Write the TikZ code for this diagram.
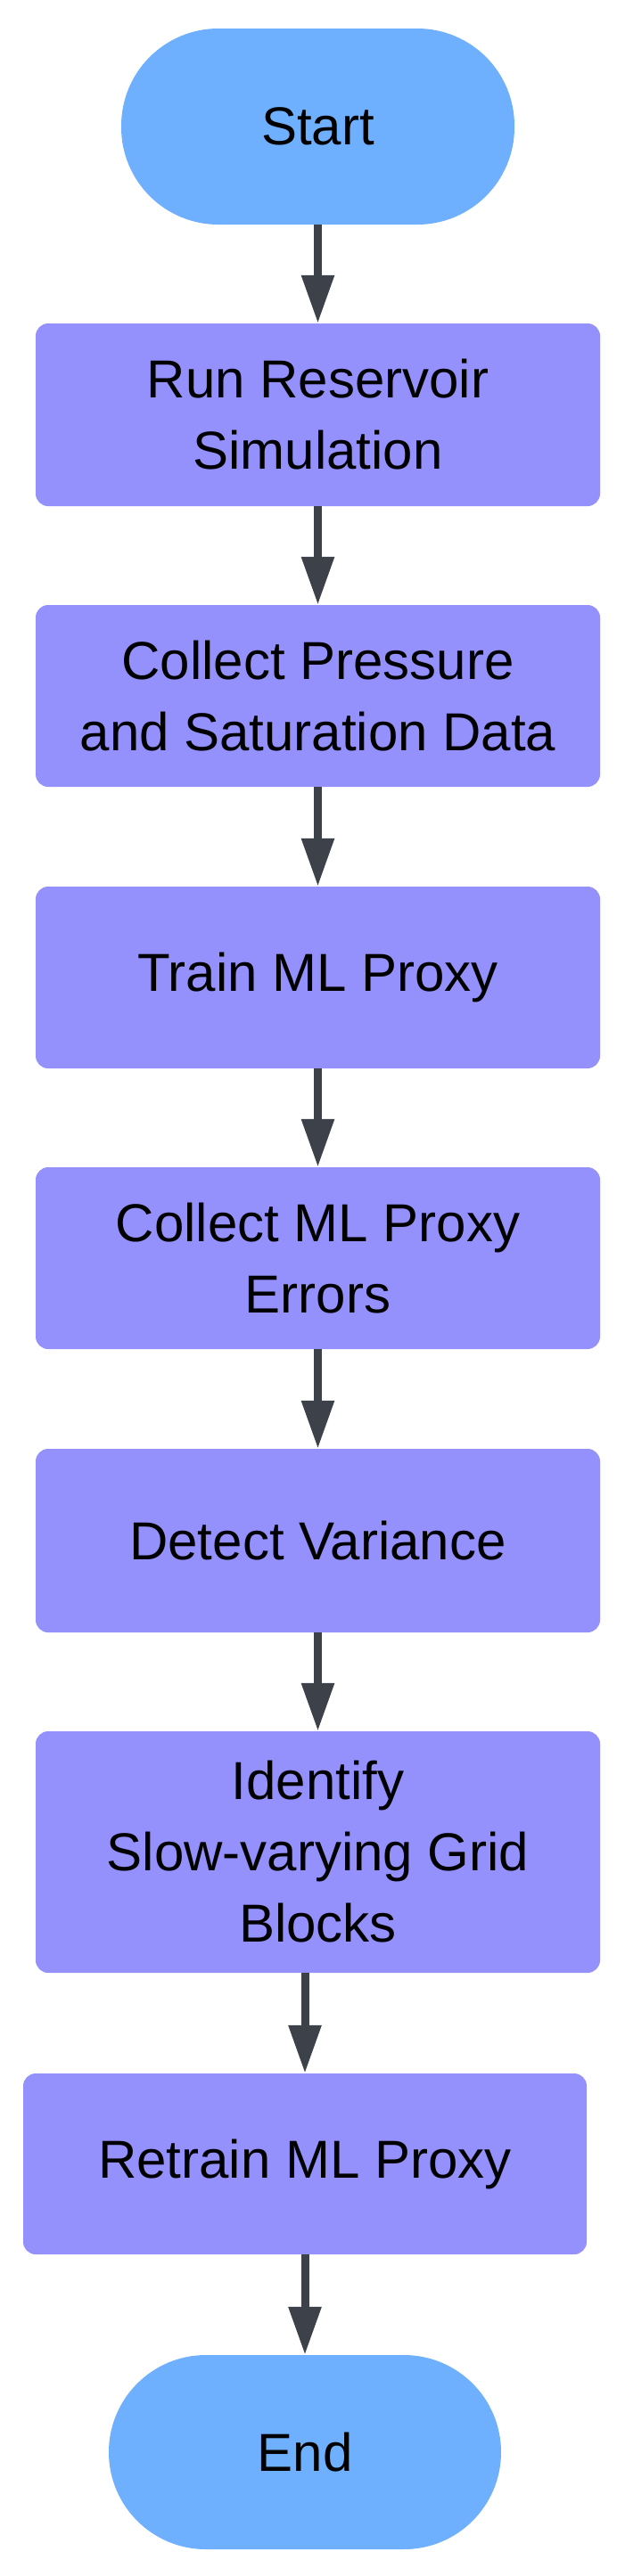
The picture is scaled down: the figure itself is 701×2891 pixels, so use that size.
\documentclass[tikz,border=0pt]{standalone}
\usepackage{fontspec}
\setmainfont{Liberation Sans}
\usetikzlibrary{arrows.meta}
\definecolor{term}{HTML}{6EB0FD}
\definecolor{proc}{HTML}{9491FC}
\definecolor{arr}{HTML}{3D4149}
\begin{document}
\begin{tikzpicture}[x=1pt,y=-1pt,
  txt/.style={font=\fontsize{60}{80}\selectfont, align=center, text=black, inner sep=0pt},
  term/.style={txt, fill=term, rounded corners=109pt, minimum width=441pt, minimum height=220pt},
  proc/.style={txt, fill=proc, rounded corners=14pt, minimum width=633pt},
  conn/.style={draw=arr, line width=9pt, -{Triangle[width=35pt,length=54pt]}}]
\useasboundingbox (0,0) rectangle (701,2891);
\node[term] (start) at (356.5,142) {Start};
\node[proc, minimum height=205pt] (run) at (356.5,465.5) {Run Reservoir\\Simulation};
\node[proc, minimum height=204pt] (collect) at (356.5,781) {Collect Pressure\\and Saturation Data};
\node[proc, minimum height=204pt] (train) at (356.5,1097) {Train ML Proxy};
\node[proc, minimum height=204pt] (errors) at (356.5,1412) {Collect ML Proxy\\Errors};
\node[proc, minimum height=206pt] (var) at (356.5,1729) {Detect Variance};
\node[proc, minimum height=271pt] (ident) at (356.5,2078.5) {Identify\\Slow-varying Grid\\Blocks};
\node[proc, minimum width=632pt, minimum height=203pt] (retrain) at (342,2428.5) {Retrain ML Proxy};
\node[term, minimum width=440pt, minimum height=218pt] (end) at (342,2752) {End};
\draw[conn] (start.south) -- (run.north);
\draw[conn] (run.south) -- (collect.north);
\draw[conn] (collect.south) -- (train.north);
\draw[conn] (train.south) -- (errors.north);
\draw[conn] (errors.south) -- (var.north);
\draw[conn] (var.south) -- (ident.north);
\draw[conn] (ident.south -| retrain.north) -- (retrain.north);
\draw[conn] (retrain.south) -- (end.north);
\end{tikzpicture}
\end{document}
